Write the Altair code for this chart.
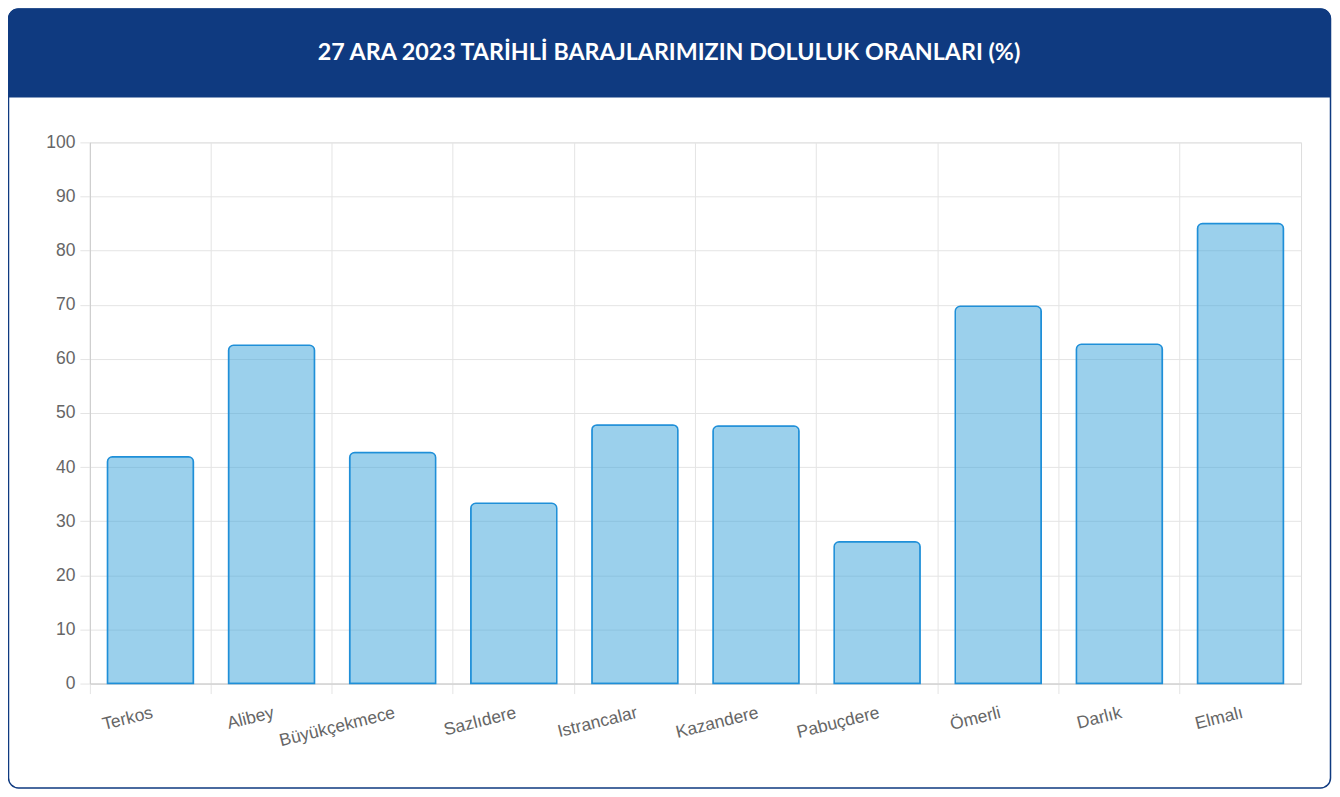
import altair as alt
import pandas as pd

categories = ["Terkos", "Alibey", "Büyükçekmece", "Sazlıdere", "Istrancalar",
              "Kazandere", "Pabuçdere", "Ömerli", "Darlık", "Elmalı"]
values = [41.9, 62.5, 42.7, 33.3, 47.8, 47.6, 26.2, 69.7, 62.7, 85.0]
y_ticks = [0, 10, 20, 30, 40, 50, 60, 70, 80, 90, 100]
title_text = "27 ARA 2023 TARİHLİ BARAJLARIMIZIN DOLULUK ORANLARI (%)"

df = pd.DataFrame({"baraj": categories, "oran": values})
one = alt.Data(values=[{"k": 1}])

W, H = 1213, 542
NAVY = "#0f3a80"

bars = alt.Chart(df).mark_bar(
    width=alt.RelativeBandSize(0.71),
    fill="#37a1d9", fillOpacity=0.5,
    stroke="#1f8fd8", strokeWidth=1.5,
    cornerRadiusTopLeft=5, cornerRadiusTopRight=5,
).encode(
    x=alt.X("baraj:N", sort=categories, title=None,
            scale=alt.Scale(paddingInner=0, paddingOuter=0),
            axis=alt.Axis(bandPosition=0, labelOffset=0, labelAngle=-14,
                          labelAlign="right", labelBaseline="top",
                          labelPadding=10, tickSize=10, labelFontSize=17.5,
                          labelFont="Liberation Sans", labelColor="#666666",
                          gridColor="#e4e4e4", tickColor="#e4e4e4",
                          domainColor="#cccccc", grid=True)),
    y=alt.Y("oran:Q", title=None,
            scale=alt.Scale(domain=[0, 100], nice=False),
            axis=alt.Axis(values=y_ticks, tickSize=10, labelPadding=5,
                          labelFontSize=17.5, labelFont="Liberation Sans",
                          labelColor="#666666", gridColor="#e4e4e4",
                          tickColor="#e4e4e4", domainColor="#cccccc")),
)

border = alt.Chart(one).mark_rect(
    fill="white", fillOpacity=0, stroke=NAVY, strokeWidth=1.5, cornerRadius=10
).encode(
    x=alt.value(-81.5), x2=alt.value(1242.5),
    y=alt.value(-133.5), y2=alt.value(646.5),
)

header = alt.Chart(one).mark_rect(
    fill=NAVY, cornerRadiusTopLeft=10, cornerRadiusTopRight=10
).encode(
    x=alt.value(-82), x2=alt.value(1243),
    y=alt.value(-134), y2=alt.value(-45),
)

title = alt.Chart(one).mark_text(
    color="white", font="Lato", fontWeight="bold", fontSize=23.3,
    align="center", baseline="middle",
).encode(
    x=alt.value(580), y=alt.value(-90), text=alt.value(title_text),
)

chart = alt.layer(border, header, bars, title).properties(
    width=W, height=H,
    autosize=alt.AutoSizeParams(type="none"),
    padding={"left": 82, "top": 134, "right": 31, "bottom": 106},
).configure_view(stroke="#e4e4e4").configure(background="white")

chart.save("out.html", embed_options={"renderer": "svg", "actions": False})
